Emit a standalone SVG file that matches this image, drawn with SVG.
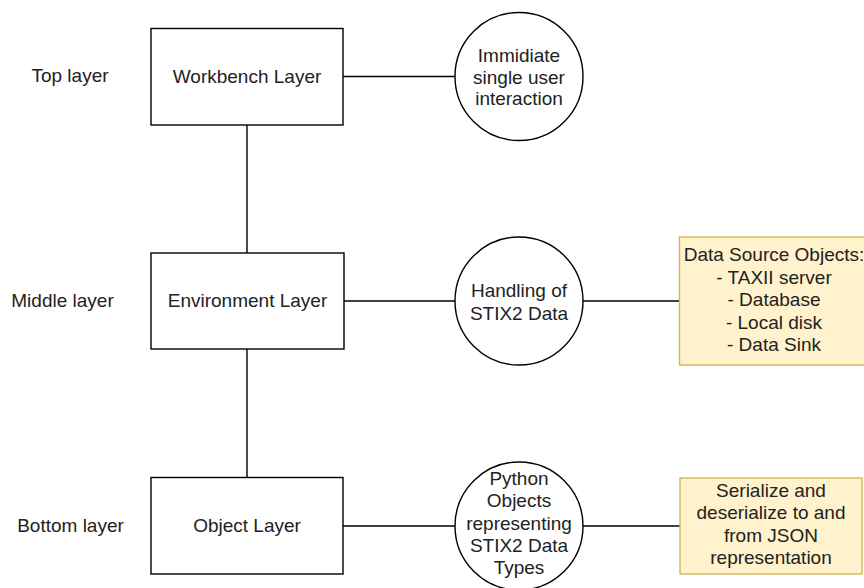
<svg xmlns="http://www.w3.org/2000/svg" width="864" height="588" viewBox="0 0 864 588">
  <style>
    text { font-family: "Liberation Sans", Arial, sans-serif; font-size: 19px; fill: #222; text-anchor: middle; }
    .layer { fill: #ffffff; stroke: #000; stroke-width: 1.4; }
    .role { fill: #ffffff; stroke: #000; stroke-width: 1.4; }
    .note { fill: #fff2cc; stroke: #d6b656; stroke-width: 1.4; }
    .edge { stroke: #000; stroke-width: 1.4; fill: none; }
  </style>
  <rect width="864" height="588" fill="#ffffff"/>

  <!-- connectors -->
  <g id="connectors">
    <line class="edge" x1="247" y1="125" x2="247" y2="253"/>
    <line class="edge" x1="247" y1="349" x2="247" y2="477.5"/>
    <line class="edge" x1="343" y1="76.5" x2="455" y2="76.5"/>
    <line class="edge" x1="344" y1="301" x2="455" y2="301"/>
    <line class="edge" x1="583" y1="301" x2="679.5" y2="301"/>
    <line class="edge" x1="343" y1="526" x2="455" y2="526"/>
    <line class="edge" x1="583" y1="526" x2="680" y2="526"/>
  </g>

  <!-- row labels -->
  <g id="label-top"><text x="70" y="82">Top layer</text></g>
  <g id="label-middle"><text x="62.5" y="306.5">Middle layer</text></g>
  <g id="label-bottom"><text x="70.5" y="532">Bottom layer</text></g>

  <!-- layers -->
  <g id="workbench-layer">
    <rect class="layer" x="151" y="28.5" width="192" height="96.5"/>
    <text x="247" y="83.3">Workbench Layer</text>
  </g>
  <g id="environment-layer">
    <rect class="layer" x="151" y="253" width="193" height="96"/>
    <text x="247.5" y="306.7">Environment Layer</text>
  </g>
  <g id="object-layer">
    <rect class="layer" x="151" y="477.5" width="192" height="96.5"/>
    <text x="247" y="531.7">Object Layer</text>
  </g>

  <!-- roles -->
  <g id="role-interaction">
    <circle class="role" cx="519" cy="76.5" r="64"/>
    <text x="519" y="62">Immidiate</text>
    <text x="519" y="83.5">single user</text>
    <text x="519" y="105">interaction</text>
  </g>
  <g id="role-handling">
    <circle class="role" cx="519" cy="301" r="64"/>
    <text x="519" y="296.5">Handling of</text>
    <text x="519" y="319.5">STIX2 Data</text>
  </g>
  <g id="role-objects">
    <circle class="role" cx="519" cy="526" r="64"/>
    <text x="519" y="485">Python</text>
    <text x="519" y="507.3">Objects</text>
    <text x="519" y="529.6">representing</text>
    <text x="519" y="551.9">STIX2 Data</text>
    <text x="519" y="574.2">Types</text>
  </g>

  <!-- notes -->
  <g id="note-data-sources">
    <rect class="note" x="679.5" y="237" width="190" height="128"/>
    <text x="774" y="261">Data Source Objects:</text>
    <text x="774" y="283.5">- TAXII server</text>
    <text x="774" y="306">- Database</text>
    <text x="774" y="328.5">- Local disk</text>
    <text x="774" y="351">- Data Sink</text>
  </g>
  <g id="note-serialize">
    <rect class="note" x="680" y="478" width="182" height="96"/>
    <text x="771" y="497">Serialize and</text>
    <text x="771" y="519.3">deserialize to and</text>
    <text x="771" y="541.6">from JSON</text>
    <text x="771" y="563.9">representation</text>
  </g>
</svg>
